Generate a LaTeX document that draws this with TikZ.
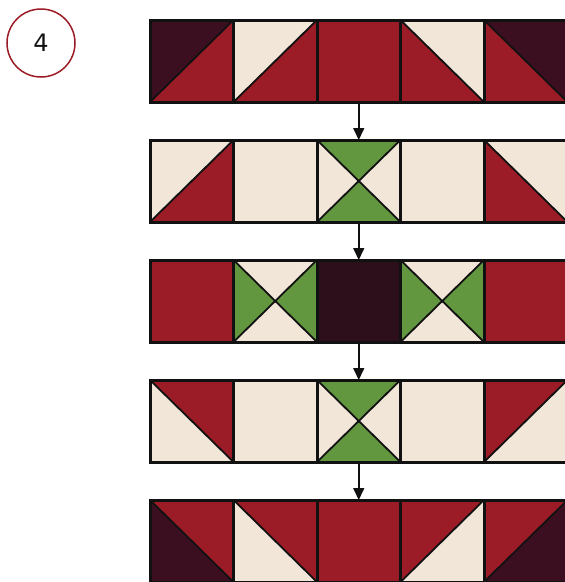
\documentclass[tikz,border=0pt]{standalone}
\usepackage{fontspec}
\setmainfont{DejaVu Sans}
\usetikzlibrary{arrows.meta}
\definecolor{qred}{HTML}{9B1B26}
\definecolor{qplum}{HTML}{3B0F20}
\definecolor{qdark}{HTML}{2D0F1C}
\definecolor{qcream}{HTML}{F2E6D8}
\definecolor{qgreen}{HTML}{63973F}
\definecolor{qline}{HTML}{111111}
\tikzset{
  border/.style={draw=qline,line width=3pt},
  diag/.style={draw=qline,line width=1.8pt},
  conn/.style={draw=qline,line width=1.6pt,-{Triangle[length=12pt,width=11pt]}},
  rowbox/.style={draw=none,minimum width=417.5pt,minimum height=82pt,inner sep=0pt,outer sep=0pt},
}
\def\qw{83.5}
\def\qh{82}
% solid square
\newcommand\qsolid[3]{%
  \begin{scope}[shift={(#1,#2)}]
    \fill[#3] (0,0) rectangle (\qw,\qh);
    \draw[border] (0,0) rectangle (\qw,\qh);
  \end{scope}}
% diagonal from bottom-left to top-right: #3 upper-left, #4 lower-right
\newcommand\qbl[4]{%
  \begin{scope}[shift={(#1,#2)}]
    \fill[#3] (0,0) -- (\qw,0) -- (0,\qh) -- cycle;
    \fill[#4] (\qw,0) -- (\qw,\qh) -- (0,\qh) -- cycle;
    \draw[diag] (0,\qh) -- (\qw,0);
    \draw[border] (0,0) rectangle (\qw,\qh);
  \end{scope}}
% diagonal from top-left to bottom-right: #3 upper-right, #4 lower-left
\newcommand\qtl[4]{%
  \begin{scope}[shift={(#1,#2)}]
    \fill[#3] (0,0) -- (\qw,0) -- (\qw,\qh) -- cycle;
    \fill[#4] (0,0) -- (0,\qh) -- (\qw,\qh) -- cycle;
    \draw[diag] (0,0) -- (\qw,\qh);
    \draw[border] (0,0) rectangle (\qw,\qh);
  \end{scope}}
% four triangles: #3 top/bottom, #4 left/right
\newcommand\qfour[4]{%
  \begin{scope}[shift={(#1,#2)}]
    \fill[#3] (0,0) -- (\qw,0) -- (\qw/2,\qh/2) -- cycle;
    \fill[#3] (0,\qh) -- (\qw,\qh) -- (\qw/2,\qh/2) -- cycle;
    \fill[#4] (0,0) -- (0,\qh) -- (\qw/2,\qh/2) -- cycle;
    \fill[#4] (\qw,0) -- (\qw,\qh) -- (\qw/2,\qh/2) -- cycle;
    \draw[diag] (0,0) -- (\qw,\qh) (0,\qh) -- (\qw,0);
    \draw[border] (0,0) rectangle (\qw,\qh);
  \end{scope}}
\begin{document}
\begin{tikzpicture}[x=1pt,y=-1pt]
\useasboundingbox (0,0) rectangle (565,582);
\clip (0,0) rectangle (565,582);
% step badge
\node[circle,draw=qred,line width=1.5pt,minimum size=68pt,inner sep=0pt,font=\fontsize{24}{24}\selectfont,text=qline] (badge) at (41,43) {4};
% row frames (for connectors)
\node[rowbox,anchor=north west] (r1) at (150,20) {};
\node[rowbox,anchor=north west] (r2) at (150,140) {};
\node[rowbox,anchor=north west] (r3) at (150,260) {};
\node[rowbox,anchor=north west] (r4) at (150,380) {};
\node[rowbox,anchor=north west] (r5) at (150,500) {};
% row 1
\qbl{150}{20}{qplum}{qred}
\qbl{233.5}{20}{qcream}{qred}
\qsolid{317}{20}{qred}
\qtl{400.5}{20}{qcream}{qred}
\qtl{484}{20}{qplum}{qred}
% row 2
\qbl{150}{140}{qcream}{qred}
\qsolid{233.5}{140}{qcream}
\qfour{317}{140}{qgreen}{qcream}
\qsolid{400.5}{140}{qcream}
\qtl{484}{140}{qcream}{qred}
% row 3
\qsolid{150}{260}{qred}
\qfour{233.5}{260}{qcream}{qgreen}
\qsolid{317}{260}{qdark}
\qfour{400.5}{260}{qcream}{qgreen}
\qsolid{484}{260}{qred}
% row 4
\qtl{150}{380}{qred}{qcream}
\qsolid{233.5}{380}{qcream}
\qfour{317}{380}{qgreen}{qcream}
\qsolid{400.5}{380}{qcream}
\qbl{484}{380}{qred}{qcream}
% row 5
\qtl{150}{500}{qred}{qplum}
\qtl{233.5}{500}{qred}{qcream}
\qsolid{317}{500}{qred}
\qbl{400.5}{500}{qred}{qcream}
\qbl{484}{500}{qred}{qplum}
% connectors
\draw[conn] (r1.south) -- (r2.north);
\draw[conn] (r2.south) -- (r3.north);
\draw[conn] (r3.south) -- (r4.north);
\draw[conn] (r4.south) -- (r5.north);
\end{tikzpicture}
\end{document}
